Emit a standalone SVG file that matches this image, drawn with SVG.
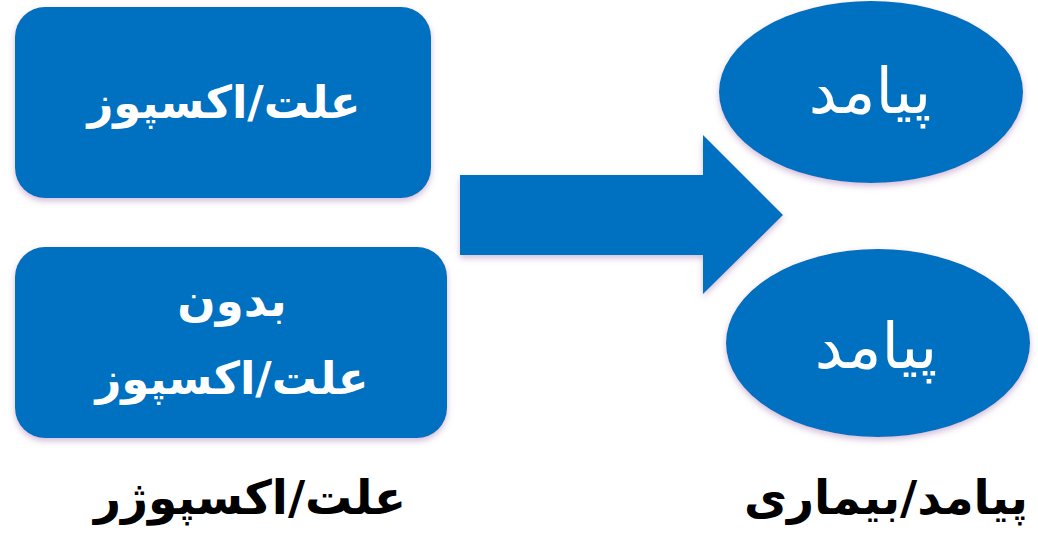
<svg xmlns="http://www.w3.org/2000/svg" width="1038" height="533" viewBox="0 0 1038 533">
<defs>
<style>
.shape{fill:#0070C0;filter:url(#sh);}
.t{fill:#ffffff;font-family:"DejaVu Sans","Noto Sans",sans-serif;text-anchor:middle;direction:rtl;}
.b{font-weight:bold;font-size:45px;}
.e{font-size:63px;}
.lbl{fill:#000000;font-family:"DejaVu Sans","Noto Sans",sans-serif;font-weight:bold;text-anchor:middle;direction:rtl;font-size:47px;}
</style>
<filter id="sh" x="-10%" y="-10%" width="120%" height="130%">
<feGaussianBlur in="SourceAlpha" stdDeviation="3"/>
<feOffset dx="0" dy="3" result="b"/>
<feFlood flood-color="#9a6aa8" flood-opacity="0.45"/>
<feComposite in2="b" operator="in"/>
<feMerge><feMergeNode/><feMergeNode in="SourceGraphic"/></feMerge>
</filter>
</defs>
<rect width="1038" height="533" fill="#ffffff"/>
<g id="cause">
<rect class="shape" x="15" y="7" width="416" height="191" rx="30"/>
<text class="t b" x="224" y="118">علت/اکسپوز</text>
</g>
<g id="nocause">
<rect class="shape" x="15" y="247" width="432" height="191" rx="30"/>
<text class="t b" x="232" y="316">بدون</text>
<text class="t b" x="232" y="394">علت/اکسپوز</text>
</g>
<g id="connectors">
<path class="shape" d="M460 175 H703 V135 L783 215 L703 294 V255 H460 Z"/>
</g>
<g id="outcome1">
<ellipse class="shape" cx="871" cy="92" rx="152" ry="91"/>
<text class="t e" x="870" y="113">پیامد</text>
</g>
<g id="outcome2">
<ellipse class="shape" cx="878" cy="343" rx="152" ry="94"/>
<text class="t e" x="876" y="368">پیامد</text>
</g>
<g id="labels">
<text class="lbl" x="250" y="514">علت/اکسپوژر</text>
<text class="lbl" x="886" y="514">پیامد/بیماری</text>
</g>
</svg>
